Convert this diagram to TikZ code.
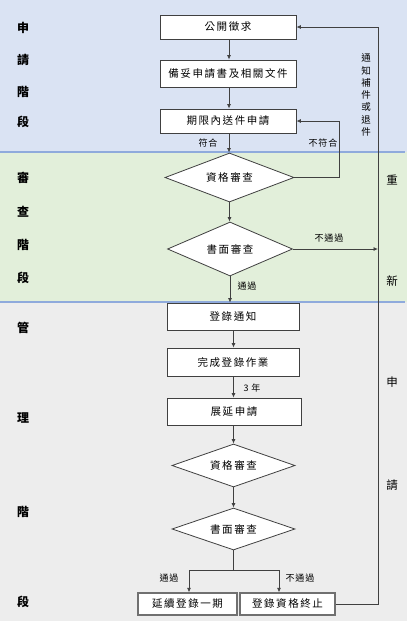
\documentclass[tikz,border=0pt]{standalone}
\usepackage{fontspec}
\setmainfont{Noto Sans CJK TC}
\newfontfamily\cjk{Noto Sans CJK TC}
\usetikzlibrary{shapes.geometric,arrows.meta}
\definecolor{bandA}{HTML}{DAE3F3}
\definecolor{bandB}{HTML}{E2EFDA}
\definecolor{bandC}{HTML}{EDEDED}
\definecolor{sepline}{HTML}{8FAADC}
\definecolor{ink}{HTML}{404040}
\definecolor{boxgray}{HTML}{707070}
\tikzset{
  stepbox/.style={draw=ink, line width=0.8pt, fill=white, rectangle, inner sep=0pt,
    font=\cjk\addfontfeature{LetterSpace=15}\fontsize{10.5}{12}\selectfont},
  endbox/.style={draw=boxgray, line width=1.2pt, fill=white, rectangle, inner sep=0pt,
    font=\cjk\addfontfeature{LetterSpace=15}\fontsize{10.5}{12}\selectfont},
  decide/.style={draw=ink, line width=0.8pt, fill=white, diamond, inner sep=0pt, aspect=2.5,
    font=\cjk\addfontfeature{LetterSpace=15}\fontsize{10.5}{12}\selectfont},
  lbl/.style={inner sep=0pt, text=black, font=\cjk\addfontfeature{LetterSpace=10}\fontsize{9}{10}\selectfont},
  phase/.style={inner sep=0pt, font=\cjk\bfseries\fontsize{12}{14}\selectfont},
  redo/.style={inner sep=0pt, font=\cjk\fontsize{11.5}{13}\selectfont},
  conn/.style={draw=ink, line width=0.8pt},
  arr/.style={conn, -{Latex[length=4.5pt,width=4pt]}},
}
\begin{document}
\begin{tikzpicture}[x=1pt,y=-1pt]
\useasboundingbox (0,0) rectangle (407,621);
% bands
\fill[bandA] (0,0) rectangle (407,152);
\fill[bandB] (0,152) rectangle (407,302);
\fill[bandC] (0,302) rectangle (407,621);
\draw[sepline, line width=1.2pt] (0,152) -- (405,152);
\draw[sepline, line width=1.2pt] (0,302) -- (405,302);
% phase labels (left)
\node[phase] (p1) at (23,28) {申};
\node[phase] (p2) at (23,60) {請};
\node[phase] (p3) at (23,92) {階};
\node[phase] (p4) at (23,122) {段};
\node[phase] (p5) at (23,178) {審};
\node[phase] (p6) at (23,212) {查};
\node[phase] (p7) at (23,245) {階};
\node[phase] (p8) at (23,278) {段};
\node[phase] (p9) at (23,328) {管};
\node[phase] (p10) at (23,418) {理};
\node[phase] (p11) at (23,512) {階};
\node[phase] (p12) at (23,602) {段};
% right labels
\node[redo] (r1) at (392,180) {重};
\node[redo] (r2) at (392,281) {新};
\node[redo] (r3) at (392,382) {申};
\node[redo] (r4) at (392,485) {請};
% flow nodes
\node[stepbox, minimum width=136pt, minimum height=24pt] (n1) at (228,27) {公開徵求};
\node[stepbox, minimum width=136pt, minimum height=27pt] (n2) at (228,73.5) {備妥申請書及相關文件};
\node[stepbox, minimum width=136pt, minimum height=24pt] (n3) at (228,121) {期限內送件申請};
\node[decide, minimum width=129pt, minimum height=49pt] (d1) at (229.5,177.5) {資格審查};
\node[decide, minimum width=125pt, minimum height=54pt] (d2) at (230,249) {書面審查};
\node[stepbox, minimum width=132pt, minimum height=27pt] (n4) at (233,316.5) {登錄通知};
\node[stepbox, minimum width=132pt, minimum height=28pt] (n5) at (233,362) {完成登錄作業};
\node[stepbox, minimum width=134pt, minimum height=27pt] (n6) at (234,411.5) {展延申請};
\node[decide, minimum width=123pt, minimum height=43pt] (d3) at (233.5,465.5) {資格審查};
\node[decide, minimum width=123pt, minimum height=42pt] (d4) at (233.5,529) {書面審查};
\node[endbox, minimum width=99pt, minimum height=22pt] (n7) at (187.5,604) {延續登錄一期};
\node[endbox, minimum width=95pt, minimum height=22pt] (n8) at (287.5,604) {登錄資格終止};
% coordinates
\coordinate (j) at (233.5,570);
\coordinate (loopR) at (378,27);
\coordinate (hit) at (378,249);
% connectors
\draw[arr] (n1.south -| 229,0) -- (n2.north -| 229,0);
\draw[arr] (n2.south -| 229,0) -- (n3.north -| 229,0);
\draw[arr] (n3.south -| 229,0) -- (d1.north -| 229,0);
\draw[arr] (d1.south -| 229.5,0) -- (d2.north -| 229.5,0);
\draw[arr] (d1.east) -- ++(45,0) |- (n3.east);
\draw[arr] (d2.east) -- (hit);
\draw[arr] (d2.south -| 230,0) -- (n4.north -| 230,0);
\draw[arr] (n4.south -| 233.5,0) -- (n5.north -| 233.5,0);
\draw[arr] (n5.south -| 233.5,0) -- (n6.north -| 233.5,0);
\draw[arr] (n6.south -| 233.5,0) -- (d3.north);
\draw[arr] (d3.south) -- (d4.north);
\draw[conn] (d4.south) -- (j);
\draw[arr] (j) -| (n7.north -| 189,0);
\draw[arr] (j) -| (n8.north -| 279,0);
\draw[arr] (n8.east) -| (loopR) -- (n1.east);
% connector labels
\node[lbl] (l1) at (208,143) {符合};
\node[lbl] (l2) at (323,143) {不符合};
\node[lbl] (l3) at (329,238) {不通過};
\node[lbl] (l4) at (247,286) {通過};
\node[lbl] (l5) at (252,388) {3 年};
\node[lbl] (l6) at (169,578) {通過};
\node[lbl] (l7) at (300,578) {不通過};
\node[inner sep=0pt, align=center, font=\cjk\fontsize{9.5}{12.3}\selectfont] (l8) at (366,95) {通\\知\\補\\件\\或\\退\\件};
\end{tikzpicture}
\end{document}
